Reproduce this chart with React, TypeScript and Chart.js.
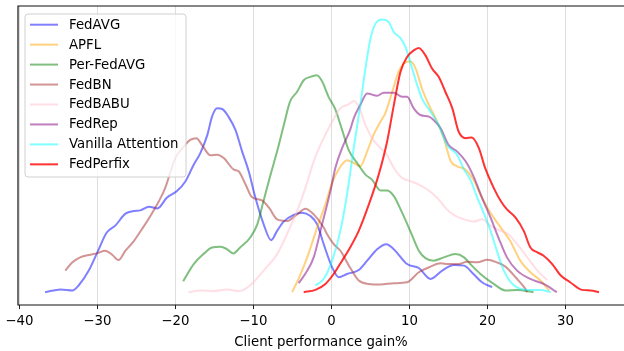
import React, { useEffect, useRef } from "react";
import { Chart, registerables } from "chart.js";

Chart.register(...registerables);

type Pt = [number, number];

const SERIES_NAMES = ["FedAVG", "APFL", "Per-FedAVG", "FedBN", "FedBABU", "FedRep", "Vanilla Attention", "FedPerfix"];
const SERIES_COLORS = [
  "rgba(0,0,255,0.5)",
  "rgba(255,165,0,0.5)",
  "rgba(0,128,0,0.5)",
  "rgba(165,42,42,0.5)",
  "rgba(255,192,203,0.5)",
  "rgba(128,0,128,0.5)",
  "rgba(0,255,255,0.5)",
  "rgba(255,0,0,0.8)",
];

const X_TICKS = [-40, -30, -20, -10, 0, 10, 20, 30];
const X_MIN = -40.17;
const X_MAX = 37.5;
const Y_MAX = 301;

const FEDAVG: Pt[] = [[-36.7,13],[-34.7,15.7],[-33.2,14.7],[-32.4,19.7],[-31.1,34.7],[-30.0,53],[-28.8,73],[-27.7,80],[-26.4,92],[-25.3,94.7],[-24.5,95.3],[-23.4,99],[-22.3,97.3],[-21.1,108],[-19.8,114.7],[-18.7,124.7],[-17.65,141.3],[-16.8,153],[-15.9,171.3],[-15.3,189.7],[-14.65,198],[-14.0,197.3],[-13.2,189.7],[-12.3,176.3],[-11.45,154.7],[-10.6,134.7],[-9.74,108],[-8.68,81.3],[-7.73,65.3],[-6.96,74.7],[-6.12,84],[-4.83,90.7],[-3.76,93],[-2.69,89.7],[-1.83,81.3],[-0.99,61.3],[0.09,38],[0.94,28],[2.0,31.3],[3.5,35.3],[4.58,44.7],[5.86,56.3],[7.05,61.3],[7.99,56.3],[9.7,41.3],[11.2,37.3],[12.7,26.3],[14.2,34.7],[15.7,40.3],[17.0,39.7],[18.2,31.3],[19.3,23],[20.6,18]];

const APFL: Pt[] = [[-5.04,13],[-4.2,26.7],[-3.1,48],[-1.83,78],[-0.77,101.3],[0.09,123],[0.94,136.7],[2.0,145.7],[2.86,143],[3.7,139.7],[4.58,154.7],[5.4,171.3],[6.3,184.7],[6.9,193],[7.8,214.7],[8.6,234.7],[9.3,243],[10.1,245.3],[10.8,238],[11.6,218],[12.5,201.3],[13.55,184.7],[14.4,168],[15.3,144.7],[16.1,139.7],[17.2,136.3],[18.2,126.3],[19.1,111.3],[20.0,98],[20.8,88],[21.7,78],[22.9,64.7],[24.2,44.7],[25.5,33],[26.8,24.7],[27.9,14.7]];

const PER_FEDAVG: Pt[] = [[-19.0,24],[-17.65,41.3],[-16.4,51.3],[-15.3,58],[-14.2,58.7],[-13.4,56.3],[-12.6,52],[-11.7,58],[-10.4,68],[-9.5,81.3],[-8.7,104.7],[-7.8,131.3],[-6.96,154.7],[-6.1,181.3],[-5.3,204.7],[-4.4,214.7],[-3.55,226.3],[-2.7,229.7],[-1.9,231.3],[-1.2,225.3],[-0.35,209.3],[0.5,197],[1.37,176.3],[2.2,156.3],[3.3,143],[4.36,131.3],[5.2,126.3],[6.3,115.3],[7.1,115.3],[8.0,109.7],[9.06,93],[10.1,74.7],[11.2,54.7],[12.05,47.3],[13.1,44.7],[14.4,48],[15.9,51.3],[17.0,48],[17.8,41.3],[19.1,31.3],[20.8,21.3],[22.3,14.7],[23.8,15.3],[25.9,13]];

const FEDBN: Pt[] = [[-34.1,34.7],[-33.2,43],[-32.2,48],[-30.9,50.7],[-30.0,52.3],[-29.0,54.7],[-28.1,50.7],[-27.3,45.3],[-26.4,54.7],[-25.3,64.7],[-24.3,76.3],[-23.2,89.7],[-22.1,104.7],[-21.3,118],[-20.6,134.7],[-20.0,148],[-18.9,159.7],[-18.1,166.3],[-17.3,168],[-16.6,161.3],[-15.5,150.7],[-14.65,151.3],[-13.8,148],[-12.5,136.3],[-11.9,134.7],[-11.0,121.3],[-10.2,108.7],[-8.9,105.3],[-8.0,98],[-6.96,86.3],[-5.68,84.7],[-4.4,91.3],[-3.33,97],[-2.27,91.3],[-0.99,78],[-0.55,71.3],[0.29,61.3],[1.15,54.7],[2.4,37.5],[3.5,24.7],[4.8,21.3],[6.3,20.7],[8.0,22],[9.7,23],[11.2,33],[12.7,38.7],[14.0,42],[15.0,41.3],[16.3,41.3],[17.4,43.7],[18.7,43],[20.0,45.7],[21.2,43],[22.3,38.7],[23.6,28],[24.7,18],[25.1,13]];

const FEDBABU: Pt[] = [[-18.3,13],[-16.8,14.7],[-15.1,14],[-13.4,15.7],[-11.9,14],[-10.4,20],[-8.7,34.7],[-6.96,51.3],[-5.7,71.3],[-4.4,94.7],[-3.33,118],[-2.27,144.7],[-1.2,164.7],[-0.13,181.3],[1.15,198],[2.2,202],[2.86,205.3],[3.5,199.7],[4.36,181.3],[5.2,168],[6.3,158],[7.1,151.3],[8.0,138],[9.06,128],[10.1,124.7],[11.2,121.3],[12.3,116.3],[13.55,108],[14.8,96.3],[15.9,89.7],[17.0,86.3],[18.2,84],[19.3,86.3],[20.4,79.7],[21.7,74.7],[22.7,71.3],[23.8,61.3],[25.1,48],[26.4,34.7],[27.65,25.3]];

const FEDREP: Pt[] = [[-4.2,22],[-3.33,31.7],[-2.27,48],[-1.2,81.3],[-0.13,114.7],[0.5,138],[1.37,158],[2.4,176.3],[2.86,188],[3.7,201.3],[4.58,213],[5.86,210.7],[6.7,213.7],[8.0,213.7],[9.06,209.7],[9.7,209.7],[10.55,198],[11.4,191.3],[12.5,189.7],[13.1,186.3],[14.0,178],[15.0,161.3],[16.1,154.7],[17.2,144.7],[18.2,129.7],[19.3,108],[20.4,88],[21.4,68],[22.5,48],[23.8,34.7],[25.5,26.3],[27.2,21.3],[28.9,13]];

const VANILLA_ATTENTION: Pt[] = [[-2.05,19.7],[-0.99,26.3],[0.09,44.7],[1.15,74.7],[2.0,111.3],[2.86,158],[3.7,201.3],[4.36,238],[5.0,268],[5.64,283],[6.5,287.3],[7.35,284.7],[8.0,274.7],[8.85,268.7],[9.5,259.7],[10.35,238],[11.0,221.3],[11.6,208],[12.7,194.7],[13.75,181.3],[14.8,161.3],[16.1,151.3],[17.0,136.3],[17.8,126.3],[18.7,108],[19.5,93],[20.4,74.7],[21.2,54.7],[22.1,34.7],[23.2,21.3],[25.1,15.3],[26.8,15.3],[28.1,13]];

const FEDPERFIX: Pt[] = [[-3.55,13],[-2.05,15.3],[-0.77,21.3],[0.29,31.3],[1.37,44.7],[2.4,58],[3.5,74.7],[4.8,101.3],[6.06,131.3],[7.14,164.7],[8.0,201.3],[8.85,234.7],[9.7,249.7],[10.55,256.3],[11.2,258.7],[12.05,251.3],[12.9,238],[13.75,229.7],[14.6,214.7],[15.5,198],[16.3,174.7],[17.2,168],[18.0,168.7],[18.9,158],[19.7,138],[20.8,118],[21.7,104.7],[22.5,96.3],[23.6,88],[24.65,74.7],[25.5,58],[26.4,53],[27.2,49.7],[28.3,41.3],[29.4,29.7],[30.6,23],[32.1,15.3],[33.2,14.7],[34.3,13]];

const SERIES_DATA: Pt[][] = [FEDAVG, APFL, PER_FEDAVG, FEDBN, FEDBABU, FEDREP, VANILLA_ATTENTION, FEDPERFIX];

const FONT = "DejaVu Sans";

const framePlugin = {
  id: "frameAndLegend",
  afterDraw(chart: any) {
    const { ctx, chartArea } = chart;
    const { left, top, right, bottom } = chartArea;
    ctx.save();
    // spines: left, top, bottom (right spine lies outside the picture)
    ctx.strokeStyle = "#111";
    ctx.lineWidth = 1.2;
    ctx.beginPath();
    ctx.moveTo(right + 2, Math.round(top));
    ctx.lineTo(Math.round(left), Math.round(top));
    ctx.lineTo(Math.round(left), Math.round(bottom));
    ctx.lineTo(right + 2, Math.round(bottom));
    ctx.stroke();
    // legend
    const bx = left + 7;
    const by = top + 8;
    const bw = 161;
    const bh = 163;
    const r = 3;
    ctx.beginPath();
    ctx.moveTo(bx + r, by);
    ctx.lineTo(bx + bw - r, by);
    ctx.arcTo(bx + bw, by, bx + bw, by + r, r);
    ctx.lineTo(bx + bw, by + bh - r);
    ctx.arcTo(bx + bw, by + bh, bx + bw - r, by + bh, r);
    ctx.lineTo(bx + r, by + bh);
    ctx.arcTo(bx, by + bh, bx, by + bh - r, r);
    ctx.lineTo(bx, by + r);
    ctx.arcTo(bx, by, bx + r, by, r);
    ctx.closePath();
    ctx.fillStyle = "rgba(255,255,255,0.8)";
    ctx.fill();
    ctx.strokeStyle = "#d0d0d0";
    ctx.lineWidth = 1;
    ctx.stroke();
    ctx.font = `13.3px "${FONT}"`;
    ctx.textBaseline = "middle";
    ctx.textAlign = "left";
    chart.data.datasets.forEach((ds: any, i: number) => {
      const cy = by + 10.7 + i * 19.95;
      ctx.strokeStyle = ds.borderColor;
      ctx.lineWidth = 2;
      ctx.beginPath();
      ctx.moveTo(bx + 5, cy);
      ctx.lineTo(bx + 33, cy);
      ctx.stroke();
      ctx.fillStyle = "#000";
      ctx.fillText(ds.label, bx + 44, cy + 0.5);
    });
    ctx.restore();
  },
};

export default function App() {
  const ref = useRef<HTMLCanvasElement | null>(null);
  useEffect(() => {
    if (!ref.current) return;
    Chart.defaults.font.family = FONT;
    Chart.defaults.color = "#000";
    const datasets = SERIES_NAMES.map((name, i) => ({
      label: name,
      data: SERIES_DATA[i].map(([x, y]) => ({ x, y })),
      borderColor: SERIES_COLORS[i],
      backgroundColor: SERIES_COLORS[i],
      borderWidth: 2,
      pointRadius: 0,
      fill: false,
      cubicInterpolationMode: "monotone" as const,
      order: SERIES_NAMES.length - i,
    }));
    const chart = new Chart(ref.current, {
      type: "line",
      data: { datasets },
      options: {
        animation: false,
        responsive: false,
        maintainAspectRatio: false,
        layout: { padding: { left: 18, right: 0, top: 6, bottom: 0 } },
        plugins: { legend: { display: false }, tooltip: { enabled: false } },
        scales: {
          x: {
            type: "linear",
            min: X_MIN,
            max: X_MAX,
            afterBuildTicks: (axis: any) => {
              axis.ticks = X_TICKS.map((v) => ({ value: v }));
            },
            ticks: {
              includeBounds: false,
              font: { size: 13.3 },
              color: "#000",
              padding: 4,
              maxRotation: 0,
              callback: (v: any) => (Number(v) < 0 ? "\u2212" + Math.abs(Number(v)) : String(v)),
            },
            grid: {
              display: true,
              color: "rgba(200,200,200,0.6)",
              lineWidth: 1,
              drawTicks: true,
              tickLength: 4,
              tickColor: "#222",
            },
            border: { display: false },
            title: {
              display: true,
              text: "Client performance gain%",
              font: { size: 13.3 },
              color: "#000",
              padding: { top: 2, bottom: 0 },
            },
          },
          y: {
            display: false,
            min: 0,
            max: Y_MAX,
          },
        },
      },
      plugins: [framePlugin],
    });
    return () => chart.destroy();
  }, []);
  return (
    <div style={{ position: "fixed", left: 0, top: 0, width: 624, height: 351, background: "#fff" }}>
      <canvas ref={ref} width={624} height={351} style={{ width: 624, height: 351, display: "block" }} />
    </div>
  );
}
